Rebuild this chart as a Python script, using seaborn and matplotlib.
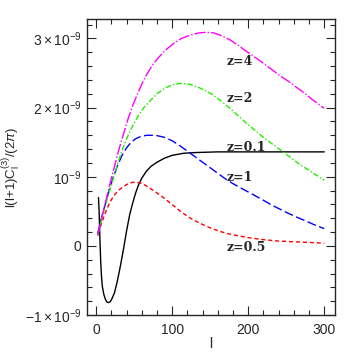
import numpy as np
import pandas as pd
import matplotlib
matplotlib.use("Agg")
import matplotlib.pyplot as plt
import seaborn as sns
from matplotlib.ticker import MultipleLocator, FixedLocator, FixedFormatter

# values in units of 1e-9
l_z01 = [3, 4, 5, 6, 7, 8, 10, 12, 14, 16, 18, 20, 24, 28, 32, 36, 40, 44, 48, 52, 56, 60, 66, 72, 80, 90, 100, 115, 130, 160, 200, 250, 300]
c_z01 = [0.70, 0.45, 0.05, -0.25, -0.45, -0.58, -0.70, -0.77, -0.81, -0.82, -0.81, -0.78, -0.68, -0.50, -0.28, -0.04, 0.22, 0.45, 0.62, 0.77, 0.89, 0.98, 1.08, 1.15, 1.21, 1.27, 1.31, 1.34, 1.35, 1.36, 1.36, 1.36, 1.36]

l_z05 = [2, 5, 10, 15, 20, 25, 30, 36, 42, 48, 53, 58, 64, 70, 78, 86, 94, 102, 112, 124, 136, 148, 160, 172, 185, 200, 220, 240, 260, 280, 300]
c_z05 = [0.18, 0.26, 0.42, 0.56, 0.67, 0.75, 0.81, 0.86, 0.90, 0.92, 0.92, 0.91, 0.88, 0.84, 0.78, 0.72, 0.65, 0.58, 0.49, 0.40, 0.33, 0.27, 0.22, 0.18, 0.15, 0.12, 0.09, 0.07, 0.06, 0.05, 0.04]

l_z1 = [2, 6, 10, 16, 22, 28, 34, 40, 46, 52, 58, 66, 78, 90, 100, 110, 120, 130, 140, 150, 160, 170, 180, 190, 200, 210, 220, 231, 242, 253, 265, 276, 286, 300]
c_z1 = [0.18, 0.36, 0.53, 0.76, 0.98, 1.16, 1.31, 1.42, 1.50, 1.55, 1.58, 1.60, 1.60, 1.57, 1.52, 1.45, 1.37, 1.29, 1.21, 1.13, 1.05, 0.97, 0.90, 0.84, 0.78, 0.72, 0.66, 0.59, 0.53, 0.47, 0.41, 0.36, 0.31, 0.25]

l_z2 = [2, 6, 10, 15, 20, 25, 30, 35, 40, 45, 50, 56, 62, 70, 80, 90, 100, 111, 122, 133, 143, 154, 165, 176, 187, 198, 210, 220, 231, 242, 253, 265, 276, 286, 300]
c_z2 = [0.15, 0.33, 0.50, 0.70, 0.88, 1.07, 1.25, 1.41, 1.55, 1.67, 1.78, 1.89, 1.99, 2.09, 2.20, 2.28, 2.33, 2.35, 2.34, 2.30, 2.25, 2.18, 2.09, 1.99, 1.88, 1.77, 1.66, 1.57, 1.48, 1.39, 1.30, 1.20, 1.12, 1.05, 0.95]

l_z4 = [2, 6, 10, 15, 20, 25, 30, 36, 42, 48, 54, 60, 66, 72, 80, 90, 102, 112, 124, 135, 145, 155, 165, 176, 187, 198, 210, 220, 231, 242, 253, 264, 275, 285, 300]
c_z4 = [0.15, 0.35, 0.53, 0.76, 0.98, 1.19, 1.40, 1.62, 1.84, 2.03, 2.19, 2.34, 2.47, 2.58, 2.70, 2.82, 2.93, 3.00, 3.05, 3.08, 3.09, 3.08, 3.04, 2.98, 2.90, 2.81, 2.72, 2.64, 2.55, 2.46, 2.38, 2.29, 2.20, 2.11, 1.99]

labels = ["z=0.1", "z=0.5", "z=1", "z=2", "z=4"]
label_x = [172, 172, 172, 172, 172]
label_y = [1.43, -0.02, 0.99, 2.13, 2.67]

ytick_vals = [-1, 0, 1, 2, 3]
ytick_text = [r"$-1\times10^{-9}$", "0", r"$10^{-9}$", r"$2\times10^{-9}$", r"$3\times10^{-9}$"]

sns.set_style("ticks")
plt.rcParams["font.family"] = ["Liberation Sans", "DejaVu Sans"]
plt.rcParams["mathtext.fontset"] = "custom"
plt.rcParams["mathtext.rm"] = "Liberation Sans"
plt.rcParams["mathtext.it"] = "Liberation Sans:italic"

fig = plt.figure(figsize=(3.54, 3.54), dpi=100)
ax = fig.add_axes([0.246, 0.110, 0.700, 0.836])

series = [
    (l_z01, c_z01, "black", None),
    (l_z05, c_z05, "#ff0000", (3, 2)),
    (l_z1, c_z1, "#0000ff", (6.5, 2.5)),
    (l_z2, c_z2, "#22ee00", (4, 1.5, 1, 1.5)),
    (l_z4, c_z4, "#ff00ff", (8, 1.5, 1, 1.5)),
]
for lx, cy, col, dash in series:
    df = pd.DataFrame({"l": lx, "C": cy})
    sns.lineplot(data=df, x="l", y="C", color=col, lw=1.0, ax=ax, legend=False)
    if dash is not None:
        ax.lines[-1].set_dashes(dash)

for t, x, y in zip(labels, label_x, label_y):
    ax.text(x, y, t, family="DejaVu Serif", weight="bold", fontsize=9,
            ha="left", va="center")

ax.set_xlim(-12, 314)
ax.set_ylim(-1.0, 3.28)
ax.xaxis.set_major_locator(MultipleLocator(100))
ax.xaxis.set_minor_locator(MultipleLocator(20))
ax.yaxis.set_major_locator(FixedLocator(ytick_vals))
ax.yaxis.set_major_formatter(FixedFormatter(ytick_text))
ax.yaxis.set_minor_locator(MultipleLocator(0.2))
ax.tick_params(which="both", direction="in", top=True, right=True, labelsize=10, width=0.8)
ax.tick_params(which="major", length=6.5)
ax.tick_params(which="minor", length=3.3)
ax.tick_params(axis="x", pad=6)
ax.tick_params(axis="y", pad=4)
for s in ax.spines.values():
    s.set_linewidth(1.0)

ax.set_xlabel("l", fontsize=10, labelpad=0)
ax.set_ylabel(r"l(l+1)C$_{\rm l}^{(3)}$/(2$\pi$)", fontsize=9.5, labelpad=2)

fig.savefig("out.png", dpi=100)
